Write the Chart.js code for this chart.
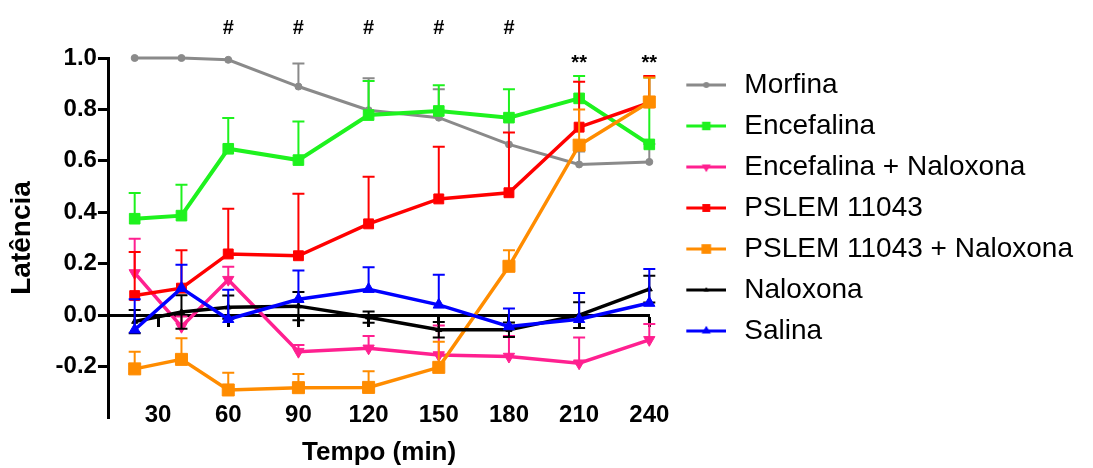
<!DOCTYPE html>
<html><head><meta charset="utf-8">
<script src="https://cdn.jsdelivr.net/npm/chart.js@4/dist/chart.umd.min.js"></script>
<style>html,body{margin:0;padding:0;background:#fff}#wrap{width:1093px;height:468px}</style>
</head><body><div id="wrap"><canvas id="c" width="1093" height="468"></canvas></div>
<script>
// ---- data ----
const times = [20, 40, 60, 90, 120, 150, 180, 210, 240];
const xTickValues = [30, 60, 90, 120, 150, 180, 210, 240];
const yTickValues = [-0.2, 0, 0.2, 0.4, 0.6, 0.8, 1.0];
const seriesNames = ['Morfina', 'Encefalina', 'Encefalina + Naloxona', 'PSLEM 11043', 'PSLEM 11043 + Naloxona', 'Naloxona', 'Salina'];

const morfina      = [1.0, 1.0, 0.993, 0.889, 0.797, 0.768, 0.664, 0.586, 0.596];
const morfinaErr   = [0, 0, 0, 0.09, 0.124, 0.11, 0.10, 0.05, 0.07];
const encef        = [0.375, 0.387, 0.647, 0.603, 0.778, 0.794, 0.768, 0.843, 0.664];
const encefErr     = [0.10, 0.12, 0.12, 0.15, 0.133, 0.10, 0.11, 0.087, 0.26];
const encefNal     = [0.164, -0.045, 0.138, -0.142, -0.129, -0.155, -0.161, -0.187, -0.096];
const encefNalErr  = [0.133, 0.04, 0.05, 0.026, 0.048, 0.115, 0.08, 0.10, 0.062];
const pslem        = [0.076, 0.105, 0.238, 0.231, 0.355, 0.452, 0.476, 0.731, 0.826];
const pslemErr     = [0.17, 0.147, 0.176, 0.241, 0.183, 0.203, 0.234, 0.177, 0.104];
const pslemNal     = [-0.209, -0.172, -0.291, -0.282, -0.281, -0.203, 0.19, 0.661, 0.829];
const pslemNalErr  = [0.067, 0.082, 0.067, 0.053, 0.063, 0.10, 0.062, 0.139, 0.095];
const naloxona     = [-0.025, 0.012, 0.031, 0.035, -0.008, -0.057, -0.057, 0.0, 0.101];
const naloxonaErr  = [0.045, 0.065, 0.045, 0.055, 0.022, 0.03, 0.028, 0.05, 0.052];
const salina       = [-0.057, 0.105, -0.016, 0.062, 0.101, 0.04, -0.044, -0.016, 0.047];
const salinaErr    = [0.119, 0.091, 0.115, 0.112, 0.085, 0.117, 0.07, 0.102, 0.132];

const hashTimes = [60, 90, 120, 150, 180];
const starTimes = [210, 240];

const seriesValues = [morfina, encef, encefNal, pslem, pslemNal, naloxona, salina];
const seriesErrors = [morfinaErr, encefErr, encefNalErr, pslemErr, pslemNalErr, naloxonaErr, salinaErr];

// ---- styles ----
const FONT = "'Liberation Sans', Arial, sans-serif";
Chart.defaults.font.family = FONT;
const styles = [
  {color: '#8a8a8a', width: 3,   point: 'circle',   r: 3.5, rot: 0,   err: 'up'},
  {color: '#1ef21e', width: 4,   point: 'rect',     r: 7.5, rot: 0,   err: 'up'},
  {color: '#ff2090', width: 3.5, point: 'triangle', r: 6.5, rot: 180, err: 'up'},
  {color: '#ff0000', width: 3.5, point: 'rect',     r: 7,   rot: 0,   err: 'up'},
  {color: '#ff8c00', width: 3.5, point: 'rect',     r: 8.5, rot: 0,   err: 'up'},
  {color: '#000000', width: 3.5, point: 'triangle', r: 3.5, rot: 0,   err: 'both'},
  {color: '#0000ff', width: 3.5, point: 'triangle', r: 6.5, rot: 0,   err: 'up'}
];

function drawMarker(ctx, st, x, y, r) {
  ctx.beginPath();
  if (st.point === 'circle') {
    ctx.arc(x, y, r, 0, Math.PI * 2);
  } else if (st.point === 'rect') {
    const s = r * Math.SQRT1_2;
    ctx.rect(x - s, y - s, 2 * s, 2 * s);
  } else {
    let rad = st.rot * Math.PI / 180;
    for (let k = 0; k < 3; k++) {
      const px = x + Math.sin(rad) * r, py = y - Math.cos(rad) * r;
      if (k === 0) ctx.moveTo(px, py); else ctx.lineTo(px, py);
      rad += 2 * Math.PI / 3;
    }
    ctx.closePath();
  }
  ctx.fill();
}

function legendIcon(st) {
  const cv = document.createElement('canvas');
  cv.width = 60; cv.height = 24;
  const c = cv.getContext('2d');
  c.strokeStyle = st.color; c.fillStyle = st.color; c.lineWidth = 3;
  c.beginPath(); c.moveTo(20, 12); c.lineTo(60, 12); c.stroke();
  drawMarker(c, st, 40, 12, Math.max(3, st.r * 0.8));
  return cv;
}

const datasets = seriesNames.map((name, i) => {
  const st = styles[i];
  return {
    label: name,
    data: times.map((t, k) => ({x: t, y: seriesValues[i][k]})),
    borderColor: st.color,
    backgroundColor: st.color,
    borderWidth: st.width,
    pointStyle: st.point,
    pointRadius: st.r,
    pointRotation: st.rot,
    pointBorderWidth: 1,
    pointHoverRadius: st.r,
    tension: 0,
    clip: false,
    order: seriesNames.length - i,
    xAxisID: 'x',
    yAxisID: 'y'
  };
});

const errorBars = {
  id: 'errorBars',
  beforeDatasetDraw(chart, args) {
    const i = args.index;
    const errs = seriesErrors[i];
    const st = styles[i];
    const xs = chart.scales.x, ys = chart.scales.y;
    const ctx = chart.ctx;
    ctx.save();
    ctx.strokeStyle = st.color;
    ctx.lineWidth = 2;
    const cap = 6;
    times.forEach((t, k) => {
      const e = errs[k];
      if (!e) return;
      const v = seriesValues[i][k];
      const px = xs.getPixelForValue(t);
      const p0 = ys.getPixelForValue(v);
      const ends = [ys.getPixelForValue(v + e)];
      if (st.err === 'both') ends.push(ys.getPixelForValue(v - e));
      ends.forEach(pe => {
        ctx.beginPath();
        ctx.moveTo(px, p0); ctx.lineTo(px, pe);
        ctx.moveTo(px - cap, pe); ctx.lineTo(px + cap, pe);
        ctx.stroke();
      });
    });
    ctx.restore();
  }
};

const marks = {
  id: 'marks',
  afterDraw(chart) {
    const xs = chart.scales.x;
    const top = chart.chartArea.top;
    const ctx = chart.ctx;
    ctx.save();
    ctx.fillStyle = '#000';
    ctx.textAlign = 'center';
    ctx.textBaseline = 'alphabetic';
    ctx.font = "bold 20px " + FONT;
    hashTimes.forEach(t => ctx.fillText('#', xs.getPixelForValue(t), top - 24));
    ctx.font = "bold 20px " + FONT;
    starTimes.forEach(t => ctx.fillText('**', xs.getPixelForValue(t), top + 11));
    ctx.restore();
  }
};

const setXTicks = s => { s.ticks = xTickValues.map(v => ({value: v})); };
const setYTicks = s => { s.ticks = yTickValues.map(v => ({value: v})); };

new Chart(document.getElementById('c'), {
  type: 'line',
  data: {datasets},
  plugins: [errorBars, marks],
  options: {
    responsive: false,
    animation: false,
    layout: {padding: {left: 5, top: 58, right: 10, bottom: 0}},
    plugins: {
      tooltip: {enabled: false},
      legend: {
        position: 'right',
        align: 'start',
        maxWidth: 460,
        labels: {
          usePointStyle: true,
          pointStyleWidth: 68,
          padding: 13,
          color: '#000',
          font: {size: 28, lineHeight: 1, family: FONT},
          generateLabels: (chart) => chart.data.datasets.map((ds, i) => ({
            text: ds.label,
            pointStyle: legendIcon(styles[i]),
            datasetIndex: i,
            hidden: false,
            fontColor: '#000',
            lineWidth: 0,
            strokeStyle: 'rgba(0,0,0,0)',
            fillStyle: 'rgba(0,0,0,0)'
          }))
        }
      }
    },
    scales: {
      x: {
        type: 'linear', min: 9, max: 240,
        position: {y: 0},
        afterBuildTicks: setXTicks,
        ticks: {display: false},
        grid: {drawOnChartArea: false, drawTicks: true, tickLength: 10, tickWidth: 3, tickColor: '#000'},
        border: {display: true, width: 3, color: '#000'}
      },
      x2: {
        type: 'linear', min: 9, max: 240,
        position: 'bottom',
        afterBuildTicks: setXTicks,
        grid: {display: false, drawTicks: false},
        border: {display: false},
        ticks: {font: {size: 24, weight: 'bold', family: FONT}, color: '#000', mirror: true, padding: -11.4, maxRotation: 0, autoSkip: false},
        title: {display: true, text: 'Tempo (min)', color: '#000', font: {size: 26, weight: 'bold', family: FONT}, padding: {top: 41.6, bottom: 0}}
      },
      y: {
        type: 'linear', min: -0.4, max: 1.0,
        afterBuildTicks: setYTicks,
        ticks: {callback: v => v.toFixed(1), font: {size: 24, weight: 'bold', family: FONT}, color: '#000', padding: 1},
        grid: {drawOnChartArea: false, drawTicks: true, tickLength: 11, tickWidth: 3, tickColor: '#000'},
        border: {display: true, width: 3, color: '#000'},
        title: {display: true, text: 'Latência', color: '#000', font: {size: 28, weight: 'bold', family: FONT}, padding: {top: 0, bottom: 16}}
      }
    }
  }
});
</script>
</body></html>
